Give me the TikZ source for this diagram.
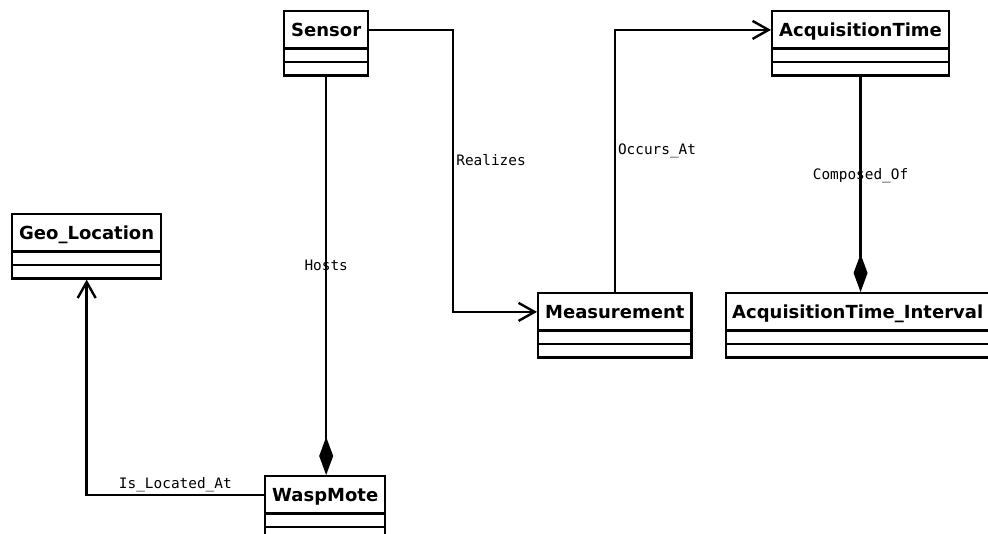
\documentclass[tikz,border=0pt]{standalone}
\usepackage{fontspec}
\setsansfont{DejaVu Sans}
\setmonofont{DejaVu Sans Mono}
\usetikzlibrary{shapes.multipart, arrows.meta, calc}

\newcommand{\umlname}[1]{\rule[-8pt]{0pt}{29pt}\textbf{#1}}

\begin{document}
\begin{tikzpicture}[x=1pt, y=-1pt,
    every node/.style={font=\fontsize{14.4pt}{16pt}\selectfont\ttfamily},
    umlclass/.style={draw, line width=2.4pt, rectangle split, rectangle split parts=3,
      rectangle split empty part height=5pt, rectangle split empty part depth=0pt,
      inner xsep=7pt, inner ysep=3pt, anchor=north west,
      font=\fontsize{18pt}{20pt}\selectfont\sffamily\bfseries},
    relation/.style={line width=2.4pt},
    navigable/.style={relation, -{Straight Barb[length=16pt, width=18pt]}},
    composite/.style={relation, -{Diamond[length=38pt, width=14pt]}},
    rolename/.style={inner sep=2pt}]
  \useasboundingbox (0,0) rectangle (988,533);

  % classes
  \node[umlclass] (sensor) at (283,10) {\umlname{Sensor} \nodepart{two} \nodepart{three}};
  \node[umlclass] (acqt) at (771,10) {\umlname{AcquisitionTime} \nodepart{two} \nodepart{three}};
  \node[umlclass] (geo) at (11,213) {\umlname{Geo\_Location} \nodepart{two} \nodepart{three}};
  \node[umlclass] (meas) at (537,292) {\umlname{Measurement} \nodepart{two} \nodepart{three}};
  \node[umlclass, inner xsep=6pt] (intv) at (725,292) {\umlname{AcquisitionTime\_Interval} \nodepart{two} \nodepart{three}};
  \node[umlclass] (wasp) at (264,475) {\umlname{WaspMote} \nodepart{two} \nodepart{three}};

  % relations
  \coordinate (realizesBend) at ($(sensor.text east)!.5!(meas.text west)$);
  \draw[navigable] (sensor.text east) -| (realizesBend)
    node[rolename, anchor=west, yshift=11pt] {Realizes} |- (meas.text west);
  \draw[navigable] (meas.north) |- node[rolename, pos=.27, anchor=west] {Occurs\_At} (acqt.text west);
  \draw[composite] (sensor.south) -- node[pos=.475] {Hosts} (sensor.south |- wasp.north);
  \draw[composite] (acqt.south) -- node[pos=.46] {Composed\_Of} (acqt.south |- intv.north);
  \draw[navigable] (wasp.text west) -| node[rolename, pos=.25, anchor=south] {Is\_Located\_At} (geo.south);
\end{tikzpicture}
\end{document}
